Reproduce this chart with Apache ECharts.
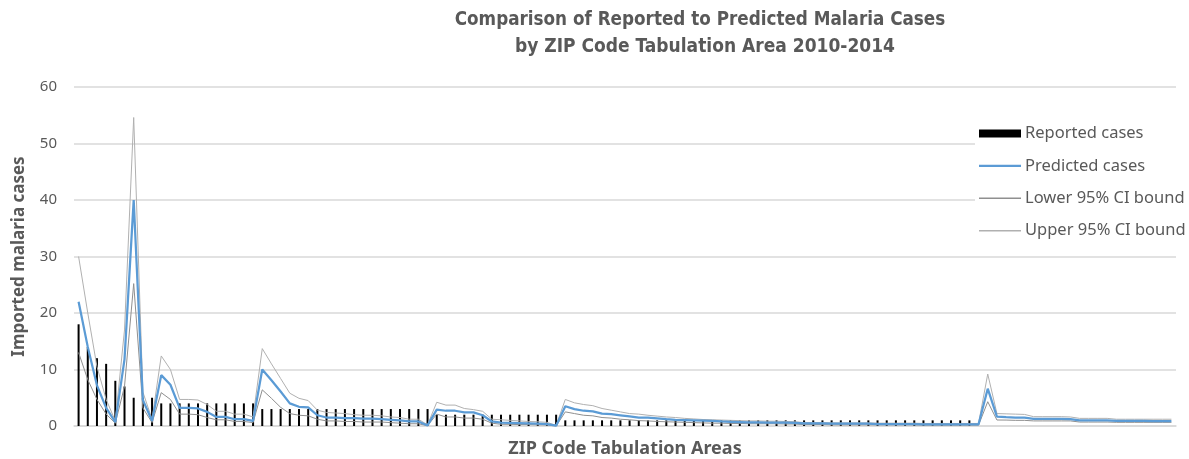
<!DOCTYPE html>
<html>
<head>
<meta charset="utf-8">
<script src="https://cdn.jsdelivr.net/npm/echarts@6/dist/echarts.min.js"></script>
<style>
  html, body { margin: 0; padding: 0; background: #ffffff; }
  #chart { width: 1189px; height: 459px; }
</style>
</head>
<body>
<div id="chart"></div>
<script>
// Imported malaria cases per ZIP Code Tabulation Area, 2010-2014 (120 areas, unlabeled)
const areaCount = 120;
const categories = Array.from({ length: areaCount }, (_, i) => 'ZCTA ' + (i + 1));

const reported = [
  18, 14, 12, 11, 8, 7, 5, 5, 5, 4,
  4, 4, 4, 4, 4, 4, 4, 4, 4, 4,
  3, 3, 3, 3, 3, 3, 3, 3, 3, 3,
  3, 3, 3, 3, 3, 3, 3, 3, 3, 2,
  2, 2, 2, 2, 2, 2, 2, 2, 2, 2,
  2, 2, 2, 1, 1, 1, 1, 1, 1, 1,
  1, 1, 1, 1, 1, 1, 1, 1, 1, 1,
  1, 1, 1, 1, 1, 1, 1, 1, 1, 1,
  1, 1, 1, 1, 1, 1, 1, 1, 1, 1,
  1, 1, 1, 1, 1, 1, 1, 1, 0, 0,
  0, 0, 0, 0, 0, 0, 0, 0, 0, 0,
  0, 0, 0, 0, 0, 0, 0, 0, 0, 0
];

const predicted = [
  22, 14, 7.2, 3.2, 0.7, 11.8, 40, 4.6, 0.9, 9,
  7.3, 3.2, 3.2, 3.1, 2.5, 1.6, 1.6, 1.2, 1.2, 0.9,
  10, 8.1, 6.1, 4.0, 3.4, 3.3, 1.9, 1.5, 1.5, 1.4,
  1.4, 1.3, 1.3, 1.2, 1.1, 1.0, 0.8, 0.8, 0.1, 2.9,
  2.7, 2.7, 2.4, 2.4, 1.9, 0.8, 0.6, 0.55, 0.5, 0.45,
  0.4, 0.35, 0.05, 3.5, 3.0, 2.7, 2.6, 2.2, 2.1, 1.9,
  1.7, 1.5, 1.5, 1.35, 1.2, 1.1, 1.05, 1.0, 0.95, 0.9,
  0.8, 0.75, 0.7, 0.65, 0.65, 0.6, 0.6, 0.6, 0.55, 0.45,
  0.45, 0.45, 0.4, 0.4, 0.4, 0.4, 0.4, 0.35, 0.35, 0.35,
  0.35, 0.35, 0.3, 0.3, 0.3, 0.3, 0.3, 0.3, 0.3, 6.6,
  1.65, 1.55, 1.5, 1.5, 1.25, 1.25, 1.25, 1.25, 1.2, 1.0,
  1.0, 1.0, 1.0, 0.9, 0.9, 0.9, 0.9, 0.85, 0.85, 0.85
];

const upperCI = [
  30, 20, 10.5, 4.7, 0.9, 17, 54.6, 6, 1.2, 12.4,
  10, 4.7, 4.7, 4.6, 3.8, 2.6, 2.6, 2.1, 2.1, 1.6,
  13.7, 11, 8.4, 5.8, 4.9, 4.5, 2.8, 2.4, 2.3, 2.2,
  2.0, 1.9, 1.9, 1.8, 1.6, 1.5, 1.2, 1.2, 0.2, 4.2,
  3.7, 3.7, 3.1, 2.9, 2.6, 1.2, 1.1, 1.0, 0.9, 0.8,
  0.75, 0.65, 0.1, 4.7, 4.1, 3.8, 3.6, 3.1, 2.8, 2.5,
  2.2, 2.1, 1.9, 1.75, 1.6, 1.5, 1.35, 1.25, 1.15, 1.1,
  1.05, 1.0, 0.95, 0.9, 0.9, 0.85, 0.85, 0.8, 0.75, 0.6,
  0.6, 0.6, 0.55, 0.55, 0.55, 0.55, 0.55, 0.5, 0.5, 0.5,
  0.5, 0.5, 0.45, 0.45, 0.45, 0.45, 0.45, 0.45, 0.45, 9.2,
  2.2, 2.15, 2.1, 2.05, 1.65, 1.65, 1.65, 1.65, 1.6, 1.35,
  1.35, 1.35, 1.35, 1.2, 1.2, 1.2, 1.2, 1.2, 1.2, 1.2
];

const lowerCI = [
  13, 8.2, 4.7, 2.1, 0.5, 7, 25.2, 3.2, 0.6, 5.9,
  4.7, 2.1, 2.1, 2.0, 1.5, 1.1, 1.1, 0.8, 0.8, 0.6,
  6.4, 4.9, 3.3, 2.2, 1.9, 1.8, 1.2, 0.9, 0.9, 0.8,
  0.8, 0.7, 0.7, 0.7, 0.6, 0.5, 0.4, 0.4, 0.05, 2.1,
  1.6, 1.6, 1.4, 1.4, 1.2, 0.5, 0.3, 0.3, 0.25, 0.25,
  0.2, 0.2, 0.0, 2.5, 2.2, 1.9, 1.8, 1.5, 1.4, 1.2,
  1.1, 0.95, 0.9, 0.8, 0.75, 0.7, 0.65, 0.6, 0.55, 0.5,
  0.5, 0.45, 0.45, 0.4, 0.4, 0.4, 0.4, 0.35, 0.35, 0.25,
  0.25, 0.25, 0.2, 0.2, 0.2, 0.2, 0.2, 0.2, 0.2, 0.2,
  0.2, 0.2, 0.15, 0.15, 0.15, 0.15, 0.15, 0.15, 0.15, 4.3,
  1.06, 1.05, 1.0, 1.0, 0.9, 0.9, 0.9, 0.9, 0.9, 0.7,
  0.7, 0.7, 0.7, 0.65, 0.65, 0.65, 0.65, 0.65, 0.65, 0.65
];

const yTicks = { min: 0, max: 60, interval: 10 };

const textGray = '#595959';
const gridGray = '#d9d9d9';
const uiFont = '"Noto Sans", "Open Sans", sans-serif';
const titleFont = '"DejaVu Sans Condensed", "Liberation Sans Narrow", sans-serif';

// thin horizontal bars used as legend swatches for the line series
const thinLine = 'path://M0,0H42V1.4H0Z';
const blueLine = 'path://M0,0H42V2.4H0Z';

const chart = echarts.init(document.getElementById('chart'), null, { renderer: 'canvas' });

chart.setOption({
  animation: false,
  backgroundColor: '#ffffff',
  graphic: [
    {
      type: 'text', x: 700, y: 20, z: 10,
      style: {
        text: 'Comparison of Reported to Predicted Malaria Cases',
        fill: textGray, font: 'bold 18.7px ' + titleFont,
        textAlign: 'center', textVerticalAlign: 'middle'
      }
    },
    {
      type: 'text', x: 705, y: 47, z: 10,
      style: {
        text: 'by ZIP Code Tabulation Area 2010-2014',
        fill: textGray, font: 'bold 19px ' + titleFont,
        textAlign: 'center', textVerticalAlign: 'middle'
      }
    }
  ],
  grid: { left: 74, right: 13, top: 87, bottom: 33, containLabel: false, outerBoundsMode: 'none' },
  legend: {
    orient: 'vertical',
    left: 975,
    top: 118,
    padding: [7, 14, 8, 4],
    backgroundColor: '#ffffff',
    itemWidth: 42,
    itemHeight: 8,
    itemGap: 15.4,
    textStyle: { color: textGray, fontSize: 16.5, fontFamily: uiFont, lineHeight: 16, padding: [0, 0, 0, -1] },
    data: [
      { name: 'Reported cases', icon: 'rect', itemStyle: { color: '#000000' } },
      { name: 'Predicted cases', icon: blueLine, itemStyle: { color: '#5b9bd5' } },
      { name: 'Lower 95% CI bound', icon: thinLine, itemStyle: { color: '#8f8f8f' } },
      { name: 'Upper 95% CI bound', icon: thinLine, itemStyle: { color: '#b0b0b0' } }
    ]
  },
  xAxis: {
    type: 'category',
    data: categories,
    boundaryGap: true,
    name: 'ZIP Code Tabulation Areas',
    nameLocation: 'middle',
    nameGap: 14,
    nameTextStyle: { color: textGray, fontSize: 18, fontWeight: 'bold', fontFamily: uiFont },
    axisLine: { show: true, lineStyle: { color: gridGray, width: 1.5 } },
    axisTick: { show: false },
    axisLabel: { show: false },
    splitLine: { show: false }
  },
  yAxis: {
    type: 'value',
    min: yTicks.min,
    max: yTicks.max,
    interval: yTicks.interval,
    name: 'Imported malaria cases',
    nameLocation: 'middle',
    nameRotate: 90,
    nameGap: 46,
    nameTextStyle: { color: textGray, fontSize: 17, fontWeight: 'bold', fontFamily: uiFont },
    axisLine: { show: false },
    axisTick: { show: false },
    axisLabel: { color: textGray, fontSize: 15, fontFamily: uiFont, margin: 17 },
    splitLine: { lineStyle: { color: gridGray, width: 1.5 } }
  },
  series: [
    {
      name: 'Reported cases',
      type: 'bar',
      data: reported,
      barWidth: 2,
      itemStyle: { color: '#000000' }
    },
    {
      name: 'Lower 95% CI bound',
      type: 'line',
      data: lowerCI,
      symbol: 'none',
      lineStyle: { color: '#8f8f8f', width: 1 },
      itemStyle: { color: '#8f8f8f' }
    },
    {
      name: 'Upper 95% CI bound',
      type: 'line',
      data: upperCI,
      symbol: 'none',
      lineStyle: { color: '#b0b0b0', width: 1 },
      itemStyle: { color: '#b0b0b0' }
    },
    {
      name: 'Predicted cases',
      type: 'line',
      data: predicted,
      symbol: 'none',
      lineStyle: { color: '#5b9bd5', width: 2.25 },
      itemStyle: { color: '#5b9bd5' }
    }
  ]
});
</script>
</body>
</html>
